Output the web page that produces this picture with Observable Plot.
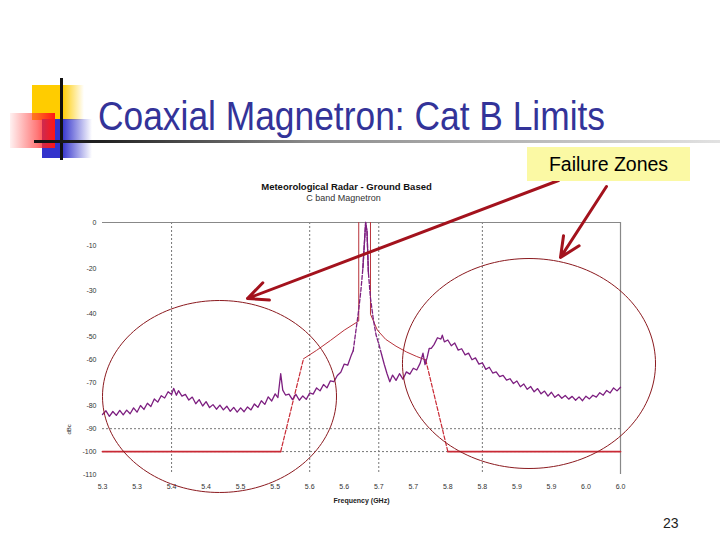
<!DOCTYPE html>
<html>
<head>
<meta charset="utf-8">
<script src="https://cdn.jsdelivr.net/npm/d3@7"></script>
<script src="https://cdn.jsdelivr.net/npm/@observablehq/plot@0.6"></script>
<style>
  html, body { margin: 0; padding: 0; background: #fff; }
  body { width: 720px; height: 540px; position: relative; overflow: hidden; font-family: "Liberation Sans", Arial, sans-serif; }
  .abs { position: absolute; }
  #yellow { left: 32px; top: 85px; width: 52px; height: 35px; background: linear-gradient(to right, #ffcc00 0%, #ffcc00 58%, rgba(255,255,255,0) 100%); }
  #blue { left: 42px; top: 119px; width: 50px; height: 39px; background: linear-gradient(to right, #3333cc 0%, #3333cc 40%, rgba(255,255,255,0) 100%); }
  #red { left: 10px; top: 113px; width: 45px; height: 35px; background: linear-gradient(to right, rgba(255,120,120,0.10) 0%, rgba(255,50,50,0.65) 60%, #ff1515 100%); }
  #vline { left: 60px; top: 78px; width: 3px; height: 82px; background: #111; }
  #hline { left: 34px; top: 140px; width: 686px; height: 3px; background: linear-gradient(to right, #111 0%, #222 10%, #8a8a8a 40%, #e2e2e2 100%); }
  #title { left: 98px; top: 96px; font-size: 40px; line-height: 40px; color: #333399; white-space: nowrap; transform: scaleX(0.884); transform-origin: left top; }
  #chart { left: 0; top: 170px; }
  #zones { left: 527px; top: 147px; width: 163px; height: 34px; background: #fbf9a4; font-size: 19.5px; color: #000; display: flex; align-items: center; justify-content: center; z-index: 3; }
  #page { left: 663px; top: 516px; font-size: 14px; line-height: 14px; color: #222; }
</style>
</head>
<body>
<div id="yellow" class="abs"></div>
<div id="blue" class="abs"></div>
<div id="red" class="abs"></div>
<div id="vline" class="abs"></div>
<div id="hline" class="abs"></div>
<div id="title" class="abs">Coaxial Magnetron: Cat B Limits</div>
<div id="chart" class="abs"></div>
<div id="zones" class="abs">Failure Zones</div>
<div id="page" class="abs">23</div>
<script>
// ---- Axis ticks and labels ----
const xTicks = [5.25, 5.30, 5.35, 5.40, 5.45, 5.50, 5.55, 5.60, 5.65, 5.70, 5.75, 5.80, 5.85, 5.90, 5.95, 6.00];
const xTickLabels = ["5.3","5.3","5.4","5.4","5.5","5.5","5.6","5.6","5.7","5.7","5.8","5.8","5.9","5.9","6.0","6.0"];
const yTicks = [0, -10, -20, -30, -40, -50, -60, -70, -80, -90, -100, -110];
const yTickLabels = ["0","-10","-20","-30","-40","-50","-60","-70","-80","-90","-100","-110"];
const gridX = [5.35, 5.55, 5.65, 5.80];
const gridY = [-90, -100];

const chartTitle = "Meteorological Radar - Ground Based";
const chartSubtitle = "C band Magnetron";
const xLabel = "Frequency (GHz)";
const yLabel = "dBc";

// ---- Measured magnetron spectrum [GHz, dB] ----
const spectrum = [
[5.250,-83.8],[5.255,-82.2],[5.260,-84.6],[5.265,-82.5],[5.270,-84.2],[5.275,-82.0],[5.280,-84.0],[5.285,-81.9],
[5.290,-83.5],[5.295,-80.9],[5.300,-82.8],[5.305,-79.9],[5.310,-81.6],[5.315,-78.9],[5.320,-80.3],[5.325,-77.0],
[5.330,-78.4],[5.335,-75.6],[5.340,-76.6],[5.345,-73.9],[5.350,-75.1],[5.353,-72.4],[5.357,-75.4],[5.360,-73.4],
[5.365,-75.8],[5.370,-75.0],[5.375,-77.5],[5.380,-76.2],[5.385,-79.1],[5.390,-77.3],[5.395,-80.1],[5.400,-78.2],
[5.405,-80.8],[5.410,-79.5],[5.415,-81.5],[5.420,-79.7],[5.425,-81.8],[5.430,-80.2],[5.435,-82.4],[5.440,-80.7],
[5.445,-82.8],[5.450,-80.9],[5.455,-82.6],[5.460,-80.5],[5.465,-81.8],[5.470,-79.2],[5.475,-80.7],[5.480,-77.8],
[5.485,-79.4],[5.490,-76.1],[5.495,-77.9],[5.500,-74.8],[5.504,-76.4],[5.508,-66.0],[5.511,-73.2],[5.515,-75.3],
[5.520,-74.9],[5.525,-77.3],[5.530,-75.0],[5.535,-77.6],[5.540,-75.7],[5.545,-77.2],[5.550,-74.4],[5.555,-74.9],
[5.560,-72.2],[5.565,-73.5],[5.570,-70.7],[5.575,-72.2],[5.580,-69.1],[5.585,-69.5],[5.590,-66.8],[5.595,-65.4],
[5.600,-61.8],[5.605,-62.3],[5.610,-58.1],[5.613,-56.0],[5.617,-47.0],[5.621,-38.0],[5.624,-30.0],[5.627,-20.0],
[5.629,-10.0],[5.631,0.0],[5.633,-4.0],[5.635,-22.0],[5.638,-33.0],[5.642,-42.0],[5.646,-49.0],[5.650,-53.0],
[5.654,-57.5],[5.658,-62.0],[5.662,-66.0],[5.666,-69.5],[5.670,-66.6],[5.675,-68.9],[5.680,-66.0],[5.685,-68.4],
[5.690,-65.2],[5.695,-66.2],[5.700,-63.6],[5.705,-64.4],[5.710,-61.4],[5.714,-57.0],[5.717,-62.0],[5.720,-59.0],
[5.723,-55.0],[5.726,-54.9],[5.730,-53.3],[5.735,-50.3],[5.740,-50.9],[5.742,-49.2],[5.745,-52.1],[5.750,-51.3],
[5.755,-53.8],[5.760,-52.6],[5.765,-55.7],[5.770,-55.1],[5.775,-57.8],[5.780,-57.0],[5.785,-59.9],[5.790,-59.1],
[5.795,-61.8],[5.800,-61.3],[5.805,-64.1],[5.810,-63.2],[5.815,-65.7],[5.820,-65.2],[5.825,-67.3],[5.830,-66.7],
[5.835,-68.8],[5.840,-68.2],[5.845,-70.3],[5.850,-69.2],[5.855,-71.7],[5.860,-70.5],[5.865,-72.8],[5.870,-71.6],
[5.875,-73.9],[5.880,-72.5],[5.885,-74.8],[5.890,-73.6],[5.895,-75.8],[5.900,-74.1],[5.905,-76.3],[5.910,-75.1],
[5.915,-76.7],[5.920,-75.5],[5.925,-77.1],[5.930,-75.9],[5.935,-77.6],[5.940,-76.1],[5.945,-77.8],[5.950,-75.8],
[5.955,-77.0],[5.960,-75.4],[5.965,-76.2],[5.970,-74.3],[5.975,-75.4],[5.980,-73.3],[5.985,-74.4],[5.990,-72.2],
[5.995,-73.5],[6.000,-71.9]
];

// ---- Cat B limit mask [GHz, dB] ----
const maskSolidLeft = [[5.250,-100],[5.508,-100]];
const maskDashLeft = [[5.508,-100],[5.541,-59.5]];
const maskCurveLeft = [[5.541,-59.5],[5.560,-55.8],[5.580,-51.5],[5.600,-47.0],[5.621,-43.0],[5.621,0]];
const maskCurveRight = [[5.638,0],[5.638,-40.0],[5.648,-47.0],[5.660,-51.0],[5.675,-54.0],[5.690,-56.5],[5.705,-58.5],[5.718,-60.0]];
const maskDashRight = [[5.718,-60.0],[5.750,-100]];
const maskSolidRight = [[5.750,-100],[6.000,-100]];

// ---- Annotations (data units) ----
const zoneCenterF = [5.4194, 5.8675];
const zoneCenterDb = [-75.95, -61.55];
const zoneRadiusF = [0.1694, 0.1832];
const zoneRadiusDb = [41.9, 45.83];
const arrowStart = [[5.9102, 18.33], [5.9797, 15.71]];
const arrowEnd = [[5.4599, -33.17], [5.9131, -15.28]];

const purple = "#7d1f80";
const maskRed = "#c92a35";

const ellipsePts = [];
zoneCenterF.forEach((cx, j) => {
  for (let k = 0; k <= 160; k++) {
    const t = 2 * Math.PI * k / 160;
    ellipsePts.push({id: j, f: cx + zoneRadiusF[j] * Math.cos(t), db: zoneCenterDb[j] + zoneRadiusDb[j] * Math.sin(t)});
  }
});
const arrows = arrowStart.map((s, i) => ({x1: s[0], y1: s[1], x2: arrowEnd[i][0], y2: arrowEnd[i][1]}));

const segA = spectrum.filter(d => d[0] <= 5.613);
const segB = spectrum.filter(d => d[0] >= 5.613 && d[0] <= 5.654);
const segPeak = spectrum.filter(d => d[0] >= 5.627 && d[0] <= 5.635);
const segC = spectrum.filter(d => d[0] >= 5.654);
const XY = {x: d => d[0], y: d => d[1]};

const chart = Plot.plot({
  width: 720, height: 340,
  marginTop: 52, marginBottom: 36, marginLeft: 102, marginRight: 100,
  style: {background: "transparent", fontFamily: "Liberation Sans, Arial, sans-serif", fontSize: "7px", color: "#333", overflow: "visible"},
  x: {domain: [5.25, 6.0], ticks: xTicks, tickFormat: d => xTickLabels[xTicks.indexOf(d)], tickSize: 0, tickPadding: 10, label: null},
  y: {domain: [-110, 0], ticks: yTicks, tickFormat: d => yTickLabels[yTicks.indexOf(d)], tickSize: 0, tickPadding: 6, label: null},
  marks: [
    Plot.ruleX(gridX, {stroke: "#777", strokeWidth: 1, strokeDasharray: "2,2"}),
    Plot.ruleY(gridY, {stroke: "#777", strokeWidth: 1, strokeDasharray: "2,2"}),
    Plot.ruleY([0], {stroke: "#888", strokeWidth: 1.2}),
    Plot.ruleX([6.0], {stroke: "#888", strokeWidth: 1.2}),
    Plot.line(maskSolidLeft, {...XY, stroke: maskRed, strokeWidth: 1.8}),
    Plot.line(maskDashLeft, {...XY, stroke: maskRed, strokeWidth: 1.2, strokeDasharray: "4,2"}),
    Plot.line(maskCurveLeft, {...XY, stroke: "#b8323a", strokeWidth: 1}),
    Plot.line(maskCurveRight, {...XY, stroke: "#b8323a", strokeWidth: 1}),
    Plot.line(maskDashRight, {...XY, stroke: maskRed, strokeWidth: 1.2, strokeDasharray: "4,2"}),
    Plot.line(maskSolidRight, {...XY, stroke: maskRed, strokeWidth: 1.8}),
    Plot.line(segA, {...XY, stroke: purple, strokeWidth: 1.3}),
    Plot.line(segB, {...XY, stroke: purple, strokeWidth: 1.3, strokeDasharray: "4,2"}),
    Plot.line(segPeak, {...XY, stroke: purple, strokeWidth: 1.3}),
    Plot.line(segC, {...XY, stroke: purple, strokeWidth: 1.3}),
    Plot.line(ellipsePts, {x: "f", y: "db", z: "id", stroke: "#8b1a1f", strokeWidth: 1}),
    Plot.text([chartTitle], {text: d => d, frameAnchor: "top", dy: -39, dx: -15, fontSize: 9.5, fontWeight: "bold", fill: "#111"}),
    Plot.text([chartSubtitle], {text: d => d, frameAnchor: "top", dy: -28, dx: -18, fontSize: 9, fill: "#333"}),
    Plot.text([xLabel], {text: d => d, frameAnchor: "bottom", dy: 28, fontSize: 7, fontWeight: "bold", fill: "#222"}),
    Plot.text([yLabel], {text: d => d, frameAnchor: "bottom-left", dx: -32, dy: -40, rotate: -90, fontSize: 6, fill: "#222"}),
    Plot.arrow(arrows, {x1: "x1", y1: "y1", x2: "x2", y2: "y2", stroke: "#a3121d", strokeWidth: 3, headLength: 11, headAngle: 50})
  ]
});
document.getElementById("chart").appendChild(chart);
</script>
</body>
</html>
